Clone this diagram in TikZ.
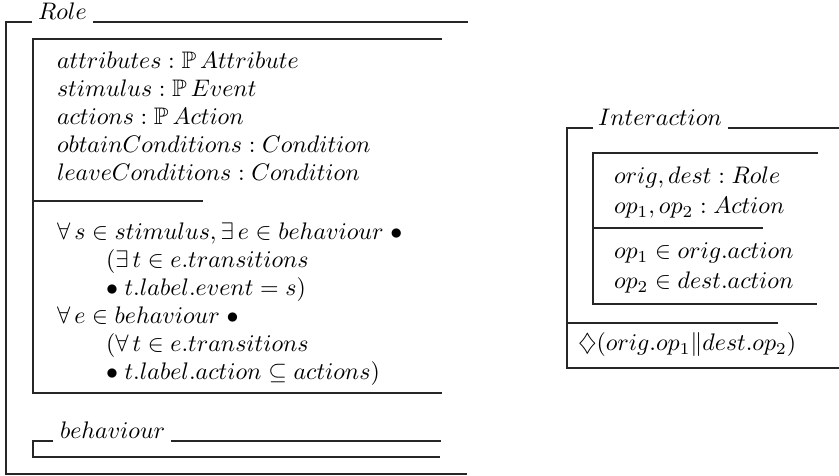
\documentclass[tikz,border=0pt]{standalone}
\usepackage{amsmath,amssymb}
\usepackage{tikz}
\usetikzlibrary{calc}
\tikzset{
  zline/.style={draw=black!85, line width=0.5pt},
  ztext/.style={anchor=base west, inner sep=0pt, outer sep=0pt}
}
\begin{document}
\begin{tikzpicture}[x=0.418pt, y=-0.418pt]
  \useasboundingbox (0,0) rectangle (839,476);
  % Role class
  \node[ztext] (roletitle) at (38,20) {$Role$};
  \draw[zline] (32,22) -- (6,22) -- (6,474) -- (467,474);
  \draw[zline] ($(roletitle.base east)+(6,2)$) -- (468,22);
  % state schema
  \draw[zline] (442,39) -- (33,39) -- (33,393) -- (442,393);
  \draw[zline] (33,201) -- (203,201);
  \node[ztext] (attr) at (57,69) {$attributes : \mathbb{P}\,Attribute$};
  \node[ztext] (stim) at (57,97) {$stimulus : \mathbb{P}\,Event$};
  \node[ztext] (acts) at (57,125) {$actions : \mathbb{P}\,Action$};
  \node[ztext] (obtain) at (57,153) {$obtainConditions : Condition$};
  \node[ztext] (leave) at (57,181) {$leaveConditions : Condition$};
  \node[ztext] (pred1) at (57,240) {$\forall\, s \in stimulus, \exists\, e \in behaviour \mathrel{\bullet}$};
  \node[ztext] (pred2) at (106,268) {$(\exists\, t \in e.transitions$};
  \node[ztext] (pred3) at (106,296) {$\mathrel{\bullet} t.label.event = s)$};
  \node[ztext] (pred4) at (57,324) {$\forall\, e \in behaviour \mathrel{\bullet}$};
  \node[ztext] (pred5) at (106,352) {$(\forall\, t \in e.transitions$};
  \node[ztext] (pred6) at (106,380) {$\mathrel{\bullet} t.label.action \subseteq actions)$};
  % behaviour schema
  \node[ztext] (behtitle) at (60,439) {$behaviour$};
  \draw[zline] (53,441) -- (33,441) -- (33,457) -- (440,457);
  \draw[zline] ($(behtitle.base east)+(6,2)$) -- (441,441);

  % Interaction class
  \node[ztext] (inttitle) at (598,126) {$Interaction$};
  \draw[zline] (593,128) -- (567,128) -- (567,368) -- (839,368);
  \draw[zline] ($(inttitle.base east)+(6,2)$) -- (839,128);
  \draw[zline] (818,153) -- (593,153) -- (593,304) -- (817,304);
  \draw[zline] (593,228) -- (763,228);
  \node[ztext] (roles) at (614,184) {$orig, dest : Role$};
  \node[ztext] (ops) at (614,214) {$op_1, op_2 : Action$};
  \node[ztext] (inv1) at (614,259) {$op_1 \in orig.action$};
  \node[ztext] (inv2) at (614,289) {$op_2 \in dest.action$};
  \draw[zline] (567,323) -- (778,323);
  \node[ztext] (event) at (578,351) {$\diamondsuit(orig.op_1 \| dest.op_2)$};
\end{tikzpicture}
\end{document}
